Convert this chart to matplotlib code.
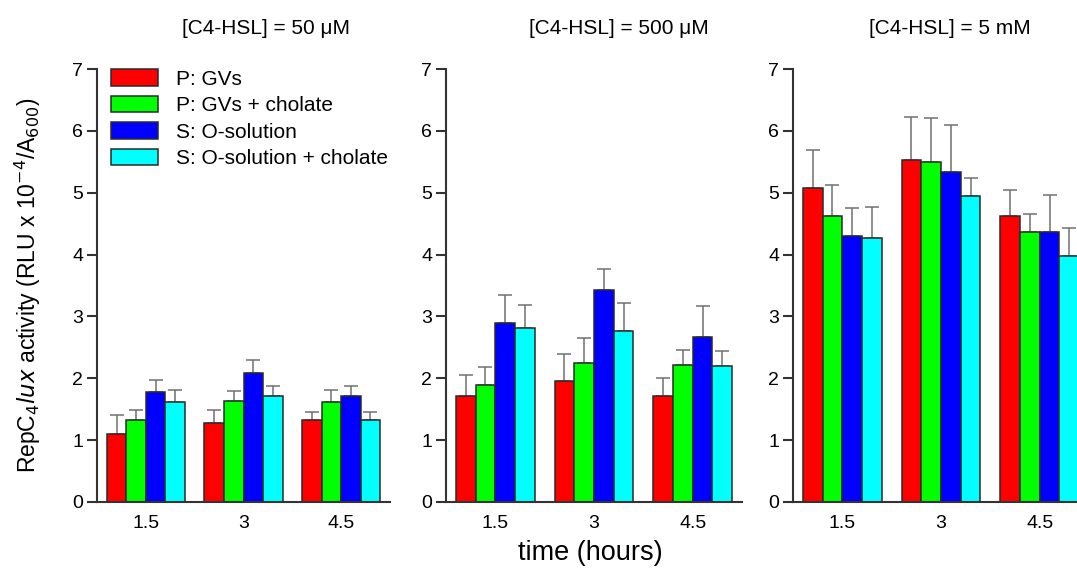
import numpy as np
import matplotlib.pyplot as plt

plt.rcParams['font.family'] = ['Liberation Sans', 'DejaVu Sans']

times = ["1.5", "3", "4.5"]
series = ["P: GVs", "P: GVs + cholate", "S: O-solution", "S: O-solution + cholate"]
colors = ["#ff0000", "#00ff00", "#0000ff", "#00ffff"]
titles = ["[C4-HSL] = 50 \u03bcM", "[C4-HSL] = 500 \u03bcM", "[C4-HSL] = 5 mM"]

# mean values [panel][series][time]
means = [
    [[1.10, 1.28, 1.32], [1.32, 1.64, 1.61], [1.78, 2.09, 1.72], [1.61, 1.72, 1.32]],
    [[1.71, 1.95, 1.72], [1.89, 2.25, 2.21], [2.90, 3.42, 2.67], [2.82, 2.76, 2.20]],
    [[5.08, 5.53, 4.63], [4.62, 5.49, 4.37], [4.30, 5.34, 4.37], [4.27, 4.94, 3.98]],
]
# top of error bar
tops = [
    [[1.40, 1.49, 1.45], [1.49, 1.80, 1.81], [1.98, 2.29, 1.87], [1.81, 1.88, 1.46]],
    [[2.06, 2.40, 2.01], [2.18, 2.65, 2.46], [3.34, 3.77, 3.17], [3.18, 3.21, 2.44]],
    [[5.69, 6.23, 5.05], [5.13, 6.20, 4.66], [4.75, 6.09, 4.97], [4.77, 5.23, 4.43]],
]

fig = plt.figure(figsize=(10.77, 5.69), dpi=100)
W, H = 1077, 569
lefts = [97, 446, 793]
widths = [293, 296, 296]
title_x = [266, 619, 950]
bottom = (H - 502) / H
height = (502 - 69) / H

x = np.arange(len(times))
bw = 0.2
axes = []
for p in range(3):
    ax = fig.add_axes([lefts[p] / W, bottom, widths[p] / W, height])
    axes.append(ax)
    for s in range(4):
        m = np.array(means[p][s])
        e = np.array(tops[p][s]) - m
        xs = x - 0.3 + s * bw
        ax.bar(xs, m, bw, color=colors[s], edgecolor="#2a2a2a", linewidth=1.1,
               label=series[s], zorder=2)
        ax.errorbar(xs, m, yerr=[np.zeros_like(e), e], fmt="none",
                    ecolor="#707070", elinewidth=1.1, capsize=5, capthick=1.1, zorder=1)
    ax.set_xlim(-0.5, 2.5)
    ax.set_ylim(0, 7)
    ax.set_xticks(x)
    ax.set_xticklabels(times)
    ax.set_yticks(range(8))
    for side in ["top", "right"]:
        ax.spines[side].set_visible(False)
    for side in ["left", "bottom"]:
        ax.spines[side].set_color("#333333")
        ax.spines[side].set_linewidth(1.5)
    ax.tick_params(axis="y", length=7, width=1.5, color="#333333", labelsize=14, pad=3)
    ax.tick_params(axis="x", length=0, labelsize=14, pad=9)
    fig.text(title_x[p] / W, 1 - 28 / H, titles[p], ha="center", va="center", fontsize=15)

axes[0].legend(loc="upper left", bbox_to_anchor=(111 / W, 1 - 69 / H),
               bbox_transform=fig.transFigure, frameon=False, fontsize=15,
               handlelength=2.26, handleheight=0.87, handletextpad=0.85,
               labelspacing=0.33, borderpad=0, borderaxespad=0)

fig.text(28 / W, 1 - 285 / H,
         r"RepC$_4$$\it{lux}$ activity (RLU x 10$^{-4}$/A$_{600}$)",
         rotation=90, ha="center", va="center", fontsize=16.5)
fig.text(590 / W, 1 - 553 / H, "time (hours)", ha="center", va="center", fontsize=19.5)

fig.savefig("out.png", dpi=100)
